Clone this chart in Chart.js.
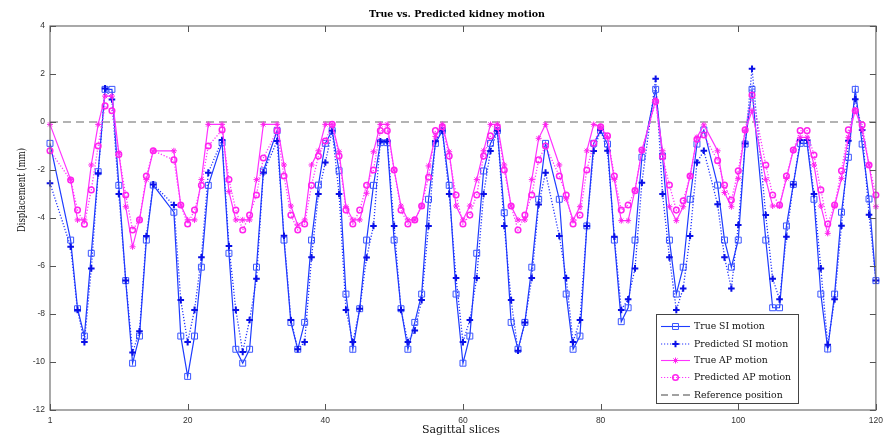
<!DOCTYPE html>
<html><head><meta charset="utf-8">
<script src="https://cdn.jsdelivr.net/npm/chart.js@4.4.1/dist/chart.umd.min.js"></script>
<style>html,body{margin:0;padding:0;background:#fff;}</style>
</head><body>
<canvas id="c" width="889" height="437"></canvas>
<script>
// ---- data ----
const slices = [0,
  3,4,5,6,7,8,9,10,11,12,13,14,15,
  18,19,20,21,22,23,
  25,26,27,28,29,30,31,
  33,34,35,36,37,38,39,40,41,42,43,44,45,46,47,48,49,50,51,52,53,54,55,56,57,58,59,60,61,62,63,64,65,66,67,68,69,70,71,72,
  74,75,76,77,78,79,80,81,82,83,84,85,86,
  88,89,90,91,92,93,94,95,
  97,98,99,100,101,102,
  104,105,106,107,108,109,110,111,112,113,114,115,116,117,118,119,120];

const trueSI = [-0.89,
  -4.92,-7.78,-8.92,-5.47,-2.07,1.36,1.36,-2.64,-6.61,-10.05,-8.92,-4.92,-2.63,
  -3.76,-8.92,-10.6,-8.92,-6.05,-2.64,
  -0.86,-5.47,-9.47,-10.05,-9.47,-6.05,-2.04,
  -0.36,-4.92,-8.35,-9.47,-8.35,-4.92,-2.63,-0.89,-0.36,-2.03,-7.17,-9.47,-7.78,-4.92,-2.64,-0.86,-0.86,-4.92,-7.78,-9.47,-8.35,-7.17,-3.22,-0.89,-0.36,-2.64,-7.17,-10.05,-8.92,-5.47,-2.04,-0.89,-0.36,-3.78,-8.35,-9.47,-8.35,-6.05,-3.22,-0.89,
  -3.22,-7.17,-9.47,-8.92,-4.33,-0.89,-0.36,-0.92,-4.92,-8.32,-7.74,-4.92,-1.47,
  1.36,-1.42,-4.92,-7.17,-6.05,-3.22,-0.92,-0.33,
  -2.63,-4.92,-6.05,-4.92,-0.92,1.36,
  -4.92,-7.74,-7.74,-4.33,-2.6,-0.89,-0.89,-3.22,-7.17,-9.46,-7.17,-3.76,-1.47,1.36,-0.92,-3.21,-6.61];

const predSI = [-2.55,
  -5.2,-7.83,-9.17,-6.1,-2.14,1.4,0.94,-3.0,-6.6,-9.6,-8.72,-4.75,-2.6,
  -3.46,-7.42,-9.17,-7.83,-5.64,-2.11,
  -0.75,-5.17,-7.83,-9.58,-8.25,-6.53,-2.1,
  -0.79,-4.74,-8.25,-9.47,-9.17,-5.64,-3.0,-1.69,-0.36,-3.0,-7.83,-9.17,-7.78,-5.65,-4.33,-0.8,-0.8,-4.33,-7.83,-9.17,-8.69,-7.42,-4.33,-0.8,-0.36,-3.0,-6.5,-9.17,-8.25,-6.5,-3.0,-1.21,-0.36,-4.33,-7.42,-9.53,-8.35,-6.5,-3.44,-2.11,
  -4.75,-6.5,-9.17,-8.25,-4.33,-1.21,-0.33,-1.2,-4.78,-7.83,-7.39,-6.1,-2.53,
  1.8,-3.0,-5.64,-7.83,-6.94,-4.75,-1.69,-1.2,
  -3.43,-5.64,-6.94,-4.29,-0.9,2.22,
  -3.88,-6.53,-7.39,-4.78,-2.6,-0.75,-0.75,-3.0,-6.1,-9.28,-7.39,-4.32,-0.78,0.95,-0.33,-3.86,-6.6];

const trueAP = [-0.1,
  -2.4,-4.08,-4.08,-1.79,-0.1,1.08,1.08,-1.28,-3.53,-5.2,-4.08,-2.4,-1.2,
  -1.2,-3.46,-4.08,-4.08,-2.4,-0.1,
  -0.1,-2.9,-4.08,-4.08,-4.08,-2.4,-0.1,
  -0.1,-1.79,-3.5,-4.3,-4.08,-1.79,-1.2,-0.1,-0.1,-1.24,-3.53,-4.08,-4.08,-2.97,-1.24,-0.1,-0.1,-2.0,-3.5,-4.08,-4.08,-3.5,-1.83,-0.6,-0.1,-1.24,-3.5,-4.08,-3.5,-2.4,-1.2,-0.1,-0.1,-1.79,-3.5,-4.08,-4.08,-2.4,-0.68,-0.1,
  -1.79,-3.2,-4.08,-3.53,-1.2,-0.1,-0.2,-0.64,-2.39,-4.11,-4.11,-2.83,-1.2,
  0.92,-1.2,-3.53,-4.11,-3.53,-2.25,-0.64,-0.12,
  -1.2,-2.94,-3.53,-2.35,-0.36,0.47,
  -2.39,-3.5,-3.5,-2.35,-1.17,-0.64,-0.64,-1.79,-3.5,-4.64,-3.5,-2.35,-0.64,0.5,-0.33,-1.79,-3.53];

const predAP = [-1.2,
  -2.42,-3.67,-4.26,-2.83,-1.0,0.67,0.47,-1.35,-3.04,-4.5,-4.08,-2.25,-1.2,
  -1.58,-3.46,-4.25,-3.67,-2.64,-1.0,
  -0.33,-2.4,-3.67,-4.5,-3.88,-3.04,-1.5,
  -0.36,-2.25,-3.88,-4.5,-4.25,-2.64,-1.42,-0.79,-0.1,-1.42,-3.67,-4.25,-3.67,-2.64,-2.0,-0.36,-0.36,-2.0,-3.67,-4.25,-4.08,-3.5,-2.3,-0.36,-0.2,-1.42,-3.04,-4.25,-3.88,-3.04,-1.42,-0.58,-0.2,-2.0,-3.5,-4.5,-3.88,-3.04,-1.58,-1.0,
  -2.25,-3.04,-4.25,-3.88,-2.0,-0.89,-0.2,-0.58,-2.25,-3.67,-3.46,-2.86,-1.17,
  0.85,-1.44,-2.63,-3.67,-3.28,-2.25,-0.72,-0.54,
  -1.61,-2.63,-3.25,-2.03,-0.33,1.12,
  -1.79,-3.04,-3.46,-2.25,-1.17,-0.36,-0.36,-1.38,-2.83,-4.25,-3.46,-2.03,-0.33,0.47,-0.12,-1.79,-3.04];

const refX = [0, 120];
const refY = [0, 0];

const xTicks = [0, 20, 40, 60, 80, 100, 120];
const xTickLabels = ['1', '20', '40', '60', '80', '100', '120'];
const yTicks = [-12, -10, -8, -6, -4, -2, 0, 2, 4];

const seriesNames = ['True SI motion', 'Predicted SI motion', 'True AP motion', 'Predicted AP motion', 'Reference position'];
const chartTitle = 'True vs. Predicted kidney motion';
const xTitle = 'Sagittal slices';
const yTitle = 'Displacement (mm)';

// ---- build ----
const pts = (xs, ys) => xs.map((x, i) => ({x: x, y: ys[i]}));

const BLUE = '#1e3cff', BLUE_M = '#3a55ff', BLUE_P = '#0a10e8';
const MAG = '#ff33ff', MAG_M = '#ff22ee';

const styles = [
  {line: BLUE, dash: [], mark: 'rect', mc: BLUE_M, r: 4.2, mw: 1, lw: 1.2},
  {line: '#2233ff', dash: [1.2, 1.8], mark: 'cross', mc: BLUE_P, r: 3.3, mw: 2, lw: 1.3},
  {line: MAG, dash: [], mark: 'star', mc: MAG_M, r: 3, mw: 1, lw: 1.2},
  {line: MAG, dash: [1.2, 1.8], mark: 'circle', mc: MAG_M, r: 2.8, mw: 1.5, lw: 1.3},
  {line: '#9a9a9a', dash: [8, 5], mark: null, mc: null, r: 0, mw: 0, lw: 1.6}
];

function ds(i, data) {
  const s = styles[i];
  return {
    label: seriesNames[i], data: data, showLine: true,
    borderColor: s.line, borderWidth: s.lw, borderDash: s.dash,
    pointStyle: s.mark || 'circle', pointRadius: s.r, pointHoverRadius: s.r,
    pointBorderColor: s.mc || s.line, pointBackgroundColor: 'rgba(0,0,0,0)',
    pointBorderWidth: s.mw, clip: false, tension: 0, order: i === 4 ? 5 : 4 - i
  };
}

function mark(ctx, style, x, y, r, color, lw) {
  if (!style) return;
  ctx.save();
  ctx.strokeStyle = color; ctx.lineWidth = lw; ctx.setLineDash([]);
  ctx.beginPath();
  if (style === 'rect') { const s = r * Math.SQRT1_2; ctx.rect(x - s, y - s, 2 * s, 2 * s); }
  else if (style === 'cross') { ctx.moveTo(x - r, y); ctx.lineTo(x + r, y); ctx.moveTo(x, y - r); ctx.lineTo(x, y + r); }
  else if (style === 'star') {
    ctx.moveTo(x - r, y); ctx.lineTo(x + r, y); ctx.moveTo(x, y - r); ctx.lineTo(x, y + r);
    const d = r * Math.SQRT1_2;
    ctx.moveTo(x - d, y - d); ctx.lineTo(x + d, y + d); ctx.moveTo(x - d, y + d); ctx.lineTo(x + d, y - d);
  }
  else if (style === 'circle') { ctx.arc(x, y, r, 0, Math.PI * 2); }
  ctx.stroke();
  ctx.restore();
}

const deco = {
  id: 'deco',
  afterDraw(chart) {
    const ctx = chart.ctx, a = chart.chartArea;
    const xs = chart.scales.x, ys = chart.scales.y;
    ctx.save();
    // frame
    ctx.strokeStyle = '#707070'; ctx.lineWidth = 1.2; ctx.setLineDash([]);
    ctx.strokeRect(a.left, a.top, a.right - a.left, a.bottom - a.top);
    // inward ticks
    ctx.beginPath();
    const tl = 6;
    xTicks.forEach(v => {
      const px = Math.round(xs.getPixelForValue(v)) + 0.5;
      ctx.moveTo(px, a.bottom); ctx.lineTo(px, a.bottom - tl);
      ctx.moveTo(px, a.top); ctx.lineTo(px, a.top + tl);
    });
    yTicks.forEach(v => {
      const py = Math.round(ys.getPixelForValue(v)) + 0.5;
      ctx.moveTo(a.left, py); ctx.lineTo(a.left + tl, py);
      ctx.moveTo(a.right, py); ctx.lineTo(a.right - tl, py);
    });
    ctx.strokeStyle = '#555'; ctx.lineWidth = 1; ctx.stroke();

    // title
    ctx.fillStyle = '#000';
    ctx.textAlign = 'center'; ctx.textBaseline = 'middle';
    ctx.font = 'bold 9.5px "DejaVu Serif"';
    ctx.fillText(chartTitle, 457, 15);
    // axis titles
    ctx.font = '11px "DejaVu Serif"';
    ctx.fillStyle = '#111';
    ctx.fillText(xTitle, 461, 430, 78);
    ctx.save();
    ctx.translate(22, 190); ctx.rotate(-Math.PI / 2);
    ctx.fillText(yTitle, 0, 0, 84);
    ctx.restore();

    // legend
    const bx = 656, by = 314, bw = 142, bh = 89;
    ctx.fillStyle = '#fff';
    ctx.fillRect(bx, by, bw, bh);
    ctx.strokeStyle = '#444'; ctx.lineWidth = 1;
    ctx.strokeRect(bx + 0.5, by + 0.5, bw, bh);
    const rows = [326.5, 344, 360.5, 377.5, 395];
    ctx.font = '9.3px "DejaVu Serif"';
    ctx.textAlign = 'left'; ctx.textBaseline = 'middle';
    styles.forEach((s, i) => {
      const y = rows[i];
      ctx.save();
      ctx.strokeStyle = i === 4 ? '#444' : s.line; ctx.lineWidth = 1.1;
      ctx.setLineDash(i === 4 ? [7, 4] : s.dash);
      ctx.beginPath(); ctx.moveTo(661, y); ctx.lineTo(690, y); ctx.stroke();
      ctx.restore();
      mark(ctx, s.mark, 675.5, y, s.r, s.mc, s.mw);
      ctx.fillStyle = '#111';
      ctx.fillText(seriesNames[i], 694, y + 0.5);
    });
    ctx.restore();
  }
};

const tickFont = {family: '"Liberation Sans", Arial, sans-serif', size: 8.5};

new Chart(document.getElementById('c'), {
  type: 'scatter',
  data: {
    datasets: [
      ds(0, pts(slices, trueSI)),
      ds(1, pts(slices, predSI)),
      ds(2, pts(slices, trueAP)),
      ds(3, pts(slices, predAP)),
      ds(4, pts(refX, refY))
    ]
  },
  options: {
    responsive: false, animation: false, events: [],
    layout: {padding: {top: 26, right: 13, left: 0, bottom: 0}},
    plugins: {legend: {display: false}, title: {display: false}, tooltip: {enabled: false}},
    scales: {
      x: {
        type: 'linear', min: 0, max: 120,
        afterBuildTicks: s => { s.ticks = xTicks.map(v => ({value: v})); },
        ticks: {
          callback: v => { const k = xTicks.indexOf(v); return k >= 0 ? xTickLabels[k] : ''; },
          font: tickFont, color: '#333', padding: 6, maxRotation: 0, autoSkip: false
        },
        grid: {display: false, drawTicks: false}, border: {display: false},
        afterFit: s => { s.height = 27; }
      },
      y: {
        type: 'linear', min: -12, max: 4,
        afterBuildTicks: s => { s.ticks = yTicks.map(v => ({value: v})); },
        ticks: {font: tickFont, color: '#333', padding: 5, autoSkip: false},
        grid: {display: false, drawTicks: false}, border: {display: false},
        afterFit: s => { s.width = 50; }
      }
    }
  },
  plugins: [deco]
});
</script>
</body></html>
